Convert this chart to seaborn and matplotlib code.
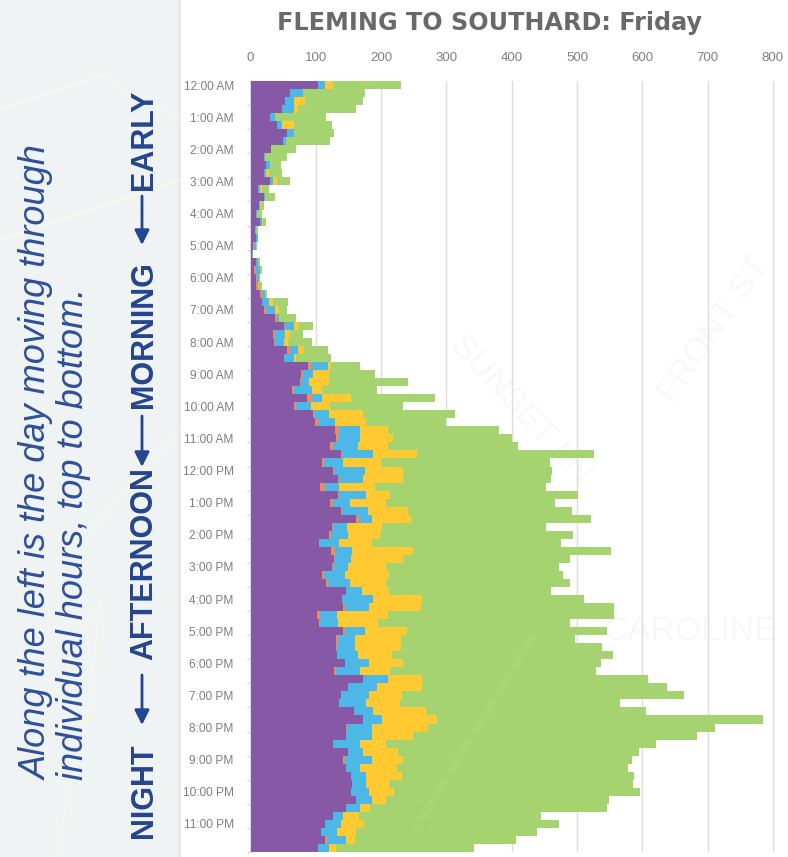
import numpy as np
import pandas as pd
import seaborn as sns
import matplotlib
matplotlib.use("Agg")
import matplotlib.pyplot as plt
from matplotlib.patches import Rectangle, FancyArrowPatch
from matplotlib.lines import Line2D

hour_labels = ["12:00 AM","1:00 AM","2:00 AM","3:00 AM","4:00 AM","5:00 AM","6:00 AM","7:00 AM",
               "8:00 AM","9:00 AM","10:00 AM","11:00 AM","12:00 PM","1:00 PM","2:00 PM","3:00 PM",
               "4:00 PM","5:00 PM","6:00 PM","7:00 PM","8:00 PM","9:00 PM","10:00 PM","11:00 PM"]
x_ticks = [0,100,200,300,400,500,600,700,800]

# Running totals per 15-minute row
upto_purple = [104,61,52.5,47.5,30,40,55.6,50,32,20,
 24.5,20,30,12,20,13,8,14,7,8,
 4,2,8,6,8.7,8,15,18,21,38,
 51,34,36,56,52,88,78,76,64,86,
 66,95,99.5,130,131.6,121,138,110,126.5,134,
 106,134,121,138,161,124.5,120,105.6,124,127.5,
 124.5,110,115,146,140,142,102,104.6,142,131,
 131,132,144,128,172,150,139,135,158,172,
 146,146,126,150,142,146,154,156,154,162,
 147,126,114,108,114,104]
upto_orange = [104,61,52.5,47.5,30,40,55.6,50,32,20,
 24.5,20,30,12,20,13,8,14,7,8,
 5.6,2,8,8,9.5,11,18,18,24,40,
 53,38,38,60,52,92,81,78,67,94,
 70,98,104,135,134,126.5,140,112,128,136,
 114,136,126,140,166,126.5,123.5,105.6,130,129.5,
 126.5,112,118,146,140,144,106,106,144,134,
 133,132,144,131,172,150,139,135,158,172,
 148,146,126,150,144,146,154,156,154,162,
 147,126,114,108,117,104]
upto_blue = [114,80,67,67,38,48,66,53.6,32,22,
 30.6,24.5,33.7,14,22,14,10,18,8.5,11,
 8.7,4,12,14,13,12,22,28,37,44,
 66,52.5,52,72,66,118,96,90,94,110,
 92,120,130,167,167,164,187,142,175.5,173,
 136,177.5,153,180,186,148,150,136,156,153.6,
 150,145,153,170,187,181,132,134,176,160,
 160,165,181,167,210,194,181,177,187,201,
 186,186,168,173,186,167,177,177,181,186,
 167,142,138,132,146,120]
upto_yellow = [126.5,80,83,72,38,66,66,53.6,32,22,
 30.6,28.6,41,18,22,16,10,18.5,8.5,11,
 8.7,4,12,14,13,12,22,35,43,44,
 74.5,60,58,82,70,124,120,120,110,154,
 122,172,177,210,218,210,255,200,234,234,
 190,214,208,241,246,201.5,198,186,249.5,234,
 208,212,208,212,263,261,210,196,240,231,
 231,216,234,214,262,263,232,229,269,286,
 272,249,207,226,234,224,232,212.5,220.5,208,
 182.5,166.5,174.5,162,160.6,131]
upto_green = [230,176,173,162,116,125,128,122,70,56,
 46,48,60,28.6,37,20,18,23,12,12,
 10,4,14,17,14,18,26,58,56,70,
 96,80,94,118,124,167,190,241,193,282,
 233,313,299,381,400,409,526,459,462,460,
 452,502,466,492,522,452.5,494,476,552,490,
 472,478,490,460,510,556,556,490,546,497,
 538,555,536,529,608,638,664,566,606,785,
 711,684,621,595,584,578,588,586,596,549,
 546,445,473,439,407,343]

W, H = 788, 857
NAVY = "#24458f"
sns.set_theme(style="white")
plt.rcParams["font.family"] = ["Liberation Sans", "DejaVu Sans"]
fig = plt.figure(figsize=(W/100, H/100), dpi=100, facecolor="white")

def fx(p): return p / W
def fy(p): return 1 - p / H

# faint map backdrop
fig.add_artist(Rectangle((0, 0), fx(180), 1, transform=fig.transFigure, color="#f0f3f4", lw=0, zorder=-5))
fig.add_artist(Rectangle((fx(178), 0), fx(3), 1, transform=fig.transFigure, color="#e8ebec", lw=0, zorder=-4))
for (x0, y0, x1, y1) in [(0,110,100,75),(100,75,180,120),(0,240,180,180),(60,565,180,430),
                         (50,700,100,600),(100,600,90,700),(55,857,90,700)]:
    fig.add_artist(Line2D([fx(x0), fx(x1)], [fy(y0), fy(y1)], color="#f7f7e4", lw=1, zorder=-3))
for s, x, y, r, fs in [("SUNSET LN", 520, 410, -47, 32), ("FRONT ST", 715, 330, 55, 32),
                       ("CAROLINE", 690, 631, 0, 32)]:
    fig.text(fx(x), fy(y), s, rotation=r, ha="center", va="center", fontsize=fs/1.3,
             color="#f8f8f8", zorder=-2)

L, T, B = 250.5, 81, 852
ax = fig.add_axes([fx(L), fy(B), fx(W - L), fy(T) - fy(B)])
ax.patch.set_alpha(0)

n = len(upto_green)
rows = [f"r{i}" for i in range(n)]
layers = [(upto_green, "#a5d36f"), (upto_yellow, "#fec931"), (upto_blue, "#4bb8e8"),
          (upto_orange, "#ee8b57"), (upto_purple, "#8758a6")]
for vals, col in layers:
    df = pd.DataFrame({"row": rows, "value": vals})
    sns.barplot(data=df, y="row", x="value", orient="y", order=rows, color=col, width=1.0,
                saturation=1, errorbar=None, linewidth=0, ax=ax, zorder=3)

ax.set_xlim(0, (W - L) / 0.653)
ax.set_ylim(n - 0.5, -0.5)
ax.set_xlabel(""); ax.set_ylabel("")
ax.xaxis.tick_top()
ax.set_xticks(x_ticks, [str(v) for v in x_ticks])
ax.set_yticks(np.arange(0, n, 4), hour_labels)
ax.set_yticks(np.arange(2.5, n, 3), minor=True)
ax.tick_params(axis="x", length=0, pad=12, labelsize=9.5, labelcolor="#7f7f7f")
ax.tick_params(axis="y", which="major", length=0, pad=12, labelsize=8.6, labelcolor="#7f7f7f")
ax.tick_params(axis="y", which="minor", length=3, width=1, color="#d4d4d4", left=True)
ax.grid(axis="x", color="#dcdcdc", lw=1, zorder=0)
ax.grid(axis="y", visible=False)
ax.set_axisbelow(True)
for s in ["top", "right", "bottom"]:
    ax.spines[s].set_visible(False)
ax.spines["left"].set_color("#d4d4d4")
ax.spines["left"].set_linewidth(1.2)

# pale road running over the chart
fig.add_artist(Line2D([fx(537), fx(415)], [fy(630), fy(830)], color="white", alpha=0.05, lw=5, zorder=8))
fig.text(fx(425), fy(820), "ST", rotation=50, ha="center", va="center", fontsize=22, color="#98cc5e", alpha=0.2, zorder=8)

fig.text(fx(490), fy(23), "FLEMING TO SOUTHARD: Friday", ha="center", va="center",
         fontsize=17.2, fontweight="bold", color="#696969", family="DejaVu Sans")

side = dict(rotation=90, ha="center", va="bottom", color="#2f4f9a", fontsize=26, style="italic")
fig.text(fx(37), fy(780), "Along the left is the day moving through", **side)
fig.text(fx(74), fy(780), "individual hours, top to bottom.", **side)

for s, y in [("EARLY", 140), ("MORNING", 335), ("AFTERNOON", 564), ("NIGHT", 791)]:
    fig.text(fx(144), fy(y), s, rotation=90, ha="center", va="center", color=NAVY,
             fontsize=22, fontweight="bold")
for y0, y1 in [(196, 245), (416, 467), (675, 725)]:
    fig.add_artist(FancyArrowPatch(
        (fx(142), fy(y0)), (fx(142), fy(y1)), transform=fig.transFigure,
        arrowstyle="-|>", mutation_scale=22, color=NAVY, lw=2, shrinkA=0, shrinkB=0))

fig.savefig("out.png", dpi=100)
